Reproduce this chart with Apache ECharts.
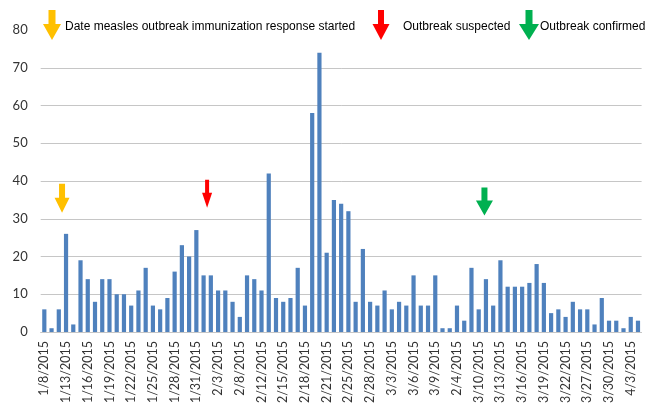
<!DOCTYPE html>
<html><head><meta charset="utf-8">
<script src="https://cdn.jsdelivr.net/npm/echarts@6/dist/echarts.min.js"></script>
<style>html,body{margin:0;padding:0;background:#fff}#c{width:662px;height:408px}</style>
</head><body><div id="c"></div>
<script>
const dates = [
 '1/8/2015','1/9/2015','1/12/2015','1/13/2015','1/14/2015','1/15/2015','1/16/2015','1/17/2015','1/18/2015','1/19/2015',
 '1/20/2015','1/21/2015','1/22/2015','1/23/2015','1/24/2015','1/25/2015','1/26/2015','1/27/2015','1/28/2015','1/29/2015',
 '1/30/2015','1/31/2015','2/1/2015','2/2/2015','2/3/2015','2/5/2015','2/6/2015','2/8/2015','2/9/2015','2/10/2015',
 '2/12/2015','2/13/2015','2/14/2015','2/15/2015','2/16/2015','2/17/2015','2/18/2015','2/19/2015','2/20/2015','2/21/2015',
 '2/23/2015','2/24/2015','2/25/2015','2/26/2015','2/27/2015','2/28/2015','3/1/2015','3/2/2015','3/3/2015','3/4/2015',
 '3/5/2015','3/6/2015','3/7/2015','3/8/2015','3/9/2015','1/10/2015','1/11/2015','2/4/2015','2/7/2015','2/11/2015',
 '3/10/2015','3/11/2015','3/12/2015','3/13/2015','3/14/2015','3/15/2015','3/16/2015','3/17/2015','3/18/2015','3/19/2015',
 '3/20/2015','3/21/2015','3/22/2015','3/24/2015','3/25/2015','3/27/2015','3/28/2015','3/29/2015','3/30/2015','3/31/2015',
 '4/1/2015','4/3/2015','4/4/2015'
];
const cases = [
 6,1,6,26,2,19,14,8,14,14,
 10,10,7,11,17,7,6,9,16,23,
 20,27,15,15,11,11,8,4,15,14,
 11,42,9,8,9,17,7,58,74,21,
 35,34,32,8,22,8,7,11,6,8,
 7,15,7,7,15,1,1,7,3,17,
 6,14,7,19,12,12,12,13,18,13,
 5,6,4,8,6,6,2,9,3,3,
 1,4,3
];
const yMin = 0, yMax = 80, yStep = 10;

// event markers: [category, value at arrow centre, colour, label]
const markerDates  = ['1/13/2015', '2/1/2015', '3/11/2015'];
const markerValues = [35.4, 36.6, 34.6];
const markerColors = ['#ffc000', '#ff0000', '#00b050'];
const markerLabels = ['Date measles outbreak immunization response started', 'Outbreak suspected', 'Outbreak confirmed'];

function arrowPath(w, h, sw, hh) {
  const a = (w - sw) / 2, b = a + sw;
  return `path://M${a},0 L${b},0 L${b},${h-hh} L${w},${h-hh} L${w/2},${h} L0,${h-hh} L${a},${h-hh} Z`;
}
function arrowPoints(cx, top, w, h, sw, hh) {
  const l = cx - w/2;
  return [[cx - sw/2, top],[cx + sw/2, top],[cx + sw/2, top + h - hh],[l + w, top + h - hh],[cx, top + h],[l, top + h - hh],[cx - sw/2, top + h - hh]];
}

const chart = echarts.init(document.getElementById('c'), null, {renderer: 'canvas'});
const legendArrows = [
  {cx: 52, w: 18, sw: 7},
  {cx: 381, w: 17, sw: 6},
  {cx: 529, w: 20, sw: 7}
];
const legendTextX = [65, 403, 540];
const graphics = [];
markerLabels.forEach((t, i) => {
  graphics.push({type: 'polygon', shape: {points: arrowPoints(legendArrows[i].cx, 10, legendArrows[i].w, 30, legendArrows[i].sw, 16)},
    style: {fill: markerColors[i]}, z: 10});
  graphics.push({type: 'text', left: legendTextX[i], top: 21,
    style: {text: t, font: '12px "Liberation Sans", Arial, sans-serif', fill: '#000'}, z: 10});
});

const markerSizes = [[15, 29, 6], [10, 28, 4], [17, 28, 6]];
const markerOffsets = [-4, 3.5, -1.5];

chart.setOption({
  animation: false,
  backgroundColor: '#fff',
  grid: {left: 40.7, right: 20.4, top: 30, bottom: 76, containLabel: false},
  xAxis: {
    type: 'category', data: dates,
    boundaryGap: true,
    axisLine: {show: true, lineStyle: {color: '#c6c6c6', width: 1}},
    axisTick: {show: false},
    axisLabel: {interval: 2, rotate: 90, margin: 9, color: '#333', fontSize: 12.5, fontFamily: 'Lato, "Open Sans", sans-serif'},
    splitLine: {show: false}
  },
  yAxis: {
    type: 'value', min: yMin, max: yMax, interval: yStep,
    axisLine: {show: false}, axisTick: {show: false},
    axisLabel: {margin: 13, color: '#333', fontSize: 13, fontFamily: 'Lato, "Open Sans", sans-serif'},
    splitLine: {show: true, showMaxLine: false, lineStyle: {color: '#c6c6c6', width: 1}}
  },
  series: [{
    type: 'bar', data: cases, barCategoryGap: '42%',
    itemStyle: {color: '#4f81bd'},
    markPoint: {
      silent: true,
      label: {show: false},
      data: markerDates.map((d, i) => ({
        coord: [d, markerValues[i]],
        symbol: arrowPath(markerSizes[i][0], markerSizes[i][1], markerSizes[i][2], 15),
        symbolSize: [markerSizes[i][0], markerSizes[i][1]],
        symbolOffset: [markerOffsets[i], 0],
        symbolKeepAspect: false,
        itemStyle: {color: markerColors[i]}
      }))
    }
  }],
  graphic: graphics
});
</script></body></html>
